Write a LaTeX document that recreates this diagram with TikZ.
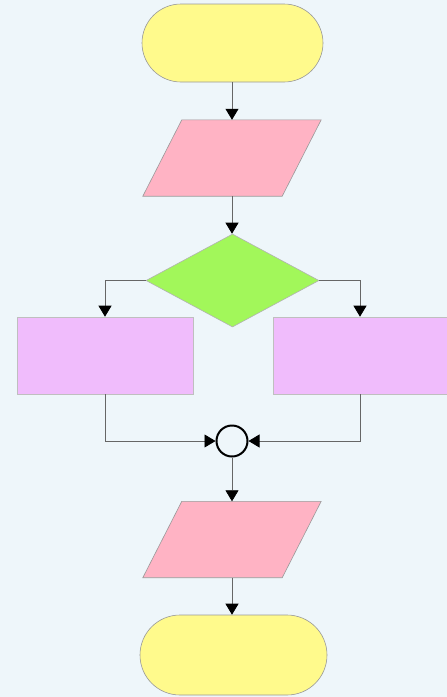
\documentclass[tikz,border=0pt]{standalone}
\usetikzlibrary{shapes.geometric,shapes.misc,arrows.meta,calc}
\definecolor{bgc}{HTML}{EEF6FA}
\definecolor{termc}{HTML}{FFFA8C}
\definecolor{ioc}{HTML}{FFB3C4}
\definecolor{decc}{HTML}{A2F75A}
\definecolor{procc}{HTML}{F0BCFC}
\tikzset{
  term/.style={rounded rectangle, fill=termc, draw=black!40, line width=0.6pt,
    minimum height=78pt, inner sep=0pt},
  % bounding box of a slanted input/output box; the slanted outline is drawn below
  iobox/.style={rectangle, minimum width=178pt, minimum height=76pt, inner sep=0pt},
  ioshape/.style={fill=ioc, draw=black!40, line width=0.6pt, line join=miter},
  decision/.style={diamond, fill=decc, draw=black!30, line width=0.6pt,
    aspect=1.86, minimum width=173pt, minimum height=93pt, inner sep=0pt},
  procbox/.style={rectangle, fill=procc, draw=black!25, line width=0.6pt,
    minimum width=176pt, minimum height=77pt, inner sep=0pt},
  junction/.style={circle, draw=black, line width=2pt, fill=bgc,
    minimum size=31pt, inner sep=0pt},
  flow/.style={draw=black!60, line width=0.7pt,
    -{Triangle[width=13pt,length=11pt,color=black,fill=black]}},
}
\begin{document}
\begin{tikzpicture}[x=1pt,y=-1pt]
  \fill[bgc] (0,0) rectangle (447,697);
  \useasboundingbox (0,0) rectangle (447,697);

  \node[term, minimum width=181pt] (start) at (232.5,43) {};
  \node[iobox] (in) at (232,158) {};
  \node[decision] (dec) at (232.5,280.5) {};
  \node[procbox] (left) at (105,355.5) {};
  \node[procbox, minimum width=174pt] (right) at (360,355.5) {};
  \node[junction] (join) at (232,441) {};
  \node[iobox] (out) at (232,539.5) {};
  \node[term, minimum width=187pt, minimum height=80pt] (stop) at (233.5,655) {};

  % slanted outlines of the two input/output boxes
  \foreach \n in {in,out}
    \path[ioshape] ($(\n.north west)+(39,0)$) -- (\n.north east)
      -- ($(\n.south east)+(-39,0)$) -- (\n.south west) -- cycle;

  \draw[flow] (in.north |- start.south) -- (in.north);
  \draw[flow] (in.south) -- (in.south |- dec.north);
  \draw[flow] (dec.west) -| (left.north);
  \draw[flow] (dec.east) -| (right.north);
  \draw[flow] (left.south) |- (join.west);
  \draw[flow] (right.south) |- (join.east);
  \draw[flow] (join.south) -- (out.north);
  \draw[flow] (out.south) -- (out.south |- stop.north);
\end{tikzpicture}
\end{document}
